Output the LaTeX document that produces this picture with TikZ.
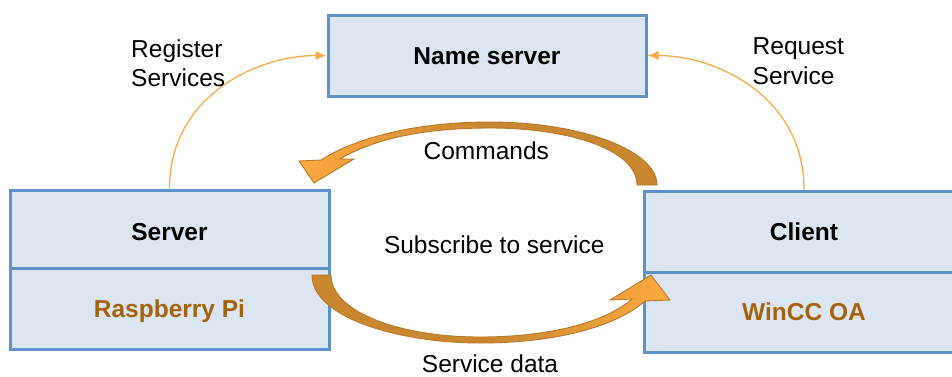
\documentclass[tikz,border=0pt]{standalone}
\usepackage{fontspec}
\setmainfont{Liberation Sans}
\usetikzlibrary{arrows.meta}
\definecolor{boxfill}{HTML}{DCE6F2}
\definecolor{boxline}{HTML}{5B92C8}
\definecolor{brn}{HTML}{A5620B}
\definecolor{thinor}{HTML}{F9A94A}
\definecolor{bigL}{HTML}{FFAA40}
\definecolor{bigD}{HTML}{C98730}
\definecolor{bigE}{HTML}{B9792A}
\begin{document}
\begin{tikzpicture}[x=1pt,y=-1pt,
  box/.style={draw=boxline, fill=boxfill, line width=3pt, rectangle, inner sep=0pt,
    text height=17.5pt, text depth=0pt, font=\fontsize{24.5}{29.4}\selectfont\bfseries},
  sub/.style={text=brn},
  lbl/.style={inner sep=0pt, font=\fontsize{24.5}{29.4}\selectfont},
  thin/.style={draw=thinor, line width=1.3pt, -{Latex[length=11pt,width=9pt]}},
  big/.style={draw=bigE, line width=0.9pt}]
\useasboundingbox (0,0) rectangle (952,376);
\clip (0,0) rectangle (952,376);
% boxes
\node[box, minimum width=318pt, minimum height=81pt] (ns) at (487,55.5) {Name server};
\node[box, text height=22pt, minimum width=319pt, minimum height=78pt] (srv) at (169.5,229) {Server};
\node[box, sub, minimum width=319pt, minimum height=81pt] (rpi) at (169.5,308.5) {Raspberry Pi};
\node[box, minimum width=320pt, minimum height=81pt] (cli) at (804,231.5) {Client};
\node[box, sub, minimum width=320pt, minimum height=80pt] (win) at (804,312) {WinCC OA};
% thin arrows
\draw[thin] (srv.north) .. controls +(0,-92) and +(-70,0) .. (ns.west);
\draw[thin] (cli.north) .. controls +(0,-92) and +(70,0) .. (ns.east);
% labels
\node[lbl, align=left, anchor=west] (reg) at (131,63.5) {Register\\Services};
\node[lbl, align=left, anchor=west] (req) at (752.5,61.3) {Request\\Service};
\node[lbl, anchor=base] (cmd) at (486.3,159) {Commands};
\node[lbl, anchor=base] (subs) at (494.3,253.3) {Subscribe to service};
\node[lbl, anchor=base] (sdat) at (490,372.7) {Service data};
% big curved arrows
\path[big, left color=bigL, right color=bigD, middle color=bigD]
  (657,185) .. controls (657,150) and (580,122) .. (490,122)
  .. controls (410,122) and (352,140) .. (321,160)
  -- (299,161) -- (314,183) -- (354,159) -- (340,159)
  .. controls (372,140) and (420,128) .. (490,128)
  .. controls (570,128) and (637,150) .. (637,185) -- cycle;
\path[big, left color=bigD, right color=bigL, middle color=bigD]
  (312,275) .. controls (312,318) and (400,343) .. (480,343)
  .. controls (560,343) and (618,325) .. (645,301)
  -- (670,300) -- (651,275) -- (610,300) -- (632,299)
  .. controls (606,322) and (550,337) .. (480,337)
  .. controls (400,337) and (331,312) .. (331,275) -- cycle;
\end{tikzpicture}
\end{document}
